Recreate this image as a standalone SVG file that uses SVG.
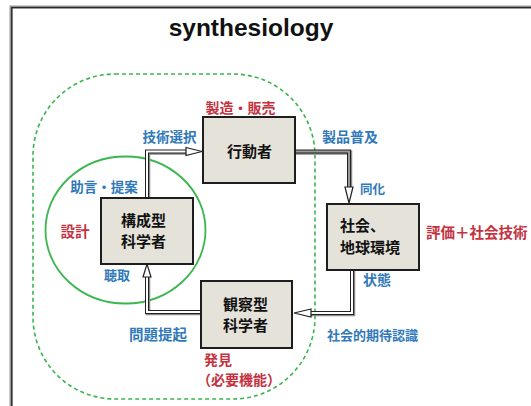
<svg xmlns="http://www.w3.org/2000/svg" width="531" height="406" viewBox="0 0 531 406">
<defs>
<style>
.jp{font-family:"Noto Sans CJK JP","Noto Sans CJK SC",sans-serif;font-weight:bold}
.blue{fill:#2f78b9}
.red{fill:#c4323f}
.box{fill:#e5e3d9;stroke:#1e1e1e;stroke-width:2}
.bt{fill:#111;font-size:15px}
.sh{fill:none;stroke:#8a8a8a;stroke-width:4.5;stroke-linejoin:miter}
.ol{fill:none;stroke:#222;stroke-width:4;stroke-linejoin:miter}
.in{fill:none;stroke:#fff;stroke-width:2;stroke-linejoin:miter}
.ing{fill:none;stroke:#9a9a9a;stroke-width:2;stroke-linejoin:miter}
.head{fill:#fff;stroke:#222;stroke-width:1.2;stroke-linejoin:miter}
</style>
</defs>
<rect width="531" height="406" fill="#fff"/>
<!-- frame -->
<rect x="11" y="7" width="620" height="520" fill="none" stroke="#9a9a9a" stroke-width="3"/>
<rect x="11.8" y="7.6" width="620" height="520" fill="none" stroke="#2a2a2a" stroke-width="1.4"/>
<text x="251" y="36" text-anchor="middle" font-family="'Liberation Sans',Arial,sans-serif" font-weight="bold" font-size="24.5" fill="#111">synthesiology</text>
<!-- grouping shapes -->
<rect x="33" y="74" width="282" height="325" rx="82" ry="82" fill="none" stroke="#3bb54e" stroke-width="1.6" stroke-dasharray="4,3"/>
<ellipse cx="125.5" cy="230" rx="80" ry="73.5" fill="none" stroke="#3bb54e" stroke-width="1.8"/>
<g id="connectors">
<!-- B -> A -->
<polyline class="sh" points="148,198 148,152.5 186,152.5"/>
<polyline class="ol" points="147,198 147,151.5 187,151.5"/>
<polyline class="in" points="147,198 147,151.5 187,151.5"/>
<polygon class="head" points="186,147.5 202,151.5 186,155.5"/>
<!-- A -> C -->
<polyline class="sh" points="295,152.5 350,152.5 350,187"/>
<polyline class="ol" points="295,151.5 349,151.5 349,188"/>
<polyline class="ing" points="295,151.5 349,151.5 349,188"/>
<polygon class="head" points="345,187 349,203 353,187"/>
<!-- C -> D -->
<polyline class="sh" points="353,270 353,314 310,314"/>
<polyline class="ol" points="352,270 352,313 309,313"/>
<polyline class="in" points="352,270 352,313 309,313"/>
<polygon class="head" points="311,309 294,313 311,317"/>
<!-- D -> B -->
<polyline class="sh" points="201,313 148,313 148,277"/>
<polyline class="ol" points="201,312 147,312 147,276"/>
<polyline class="in" points="201,312 147,312 147,276"/>
<polygon class="head" points="143,277 147,264 151,277"/>
</g>
<g id="node-actor">
<rect class="box" x="203" y="117" width="92" height="66"/>
<text class="jp bt" x="249.5" y="157" text-anchor="middle" font-size="16">行動者</text>
</g>
<g id="node-constructive">
<rect class="box" x="101" y="198" width="92" height="66"/>
<text class="jp bt" text-anchor="middle"><tspan x="143.5" y="225.5">構成型</tspan><tspan x="143.5" y="247.3">科学者</tspan></text>
</g>
<g id="node-society">
<rect class="box" x="327" y="204" width="92" height="66"/>
<text class="jp bt"><tspan x="340" y="231.4">社会、</tspan><tspan x="340" y="253.2">地球環境</tspan></text>
</g>
<g id="node-observational">
<rect class="box" x="201" y="281" width="91" height="67"/>
<text class="jp bt" text-anchor="middle"><tspan x="245.5" y="309.5">観察型</tspan><tspan x="245.5" y="331.3">科学者</tspan></text>
</g>
<g id="labels">
<text class="jp red" x="240.5" y="113" font-size="14" text-anchor="middle">製造・販売</text>
<text class="jp blue" x="169.5" y="142" font-size="13.5" text-anchor="middle">技術選択</text>
<text class="jp blue" x="350" y="142" font-size="14" text-anchor="middle">製品普及</text>
<text class="jp blue" x="372.5" y="194" font-size="12.5" text-anchor="middle">同化</text>
<text class="jp red" x="426" y="238" font-size="14.5">評価＋社会技術</text>
<text class="jp blue" x="377" y="284.5" font-size="14" text-anchor="middle">状態</text>
<text class="jp blue" x="372.5" y="340" font-size="13" text-anchor="middle">社会的期待認識</text>
<text class="jp blue" x="158" y="339.5" font-size="14.5" text-anchor="middle">問題提起</text>
<text class="jp red" font-size="14"><tspan x="204" y="364.9">発見</tspan><tspan x="197" y="385.3">（必要機能）</tspan></text>
<text class="jp blue" x="104" y="192" font-size="13.5" text-anchor="middle">助言・提案</text>
<text class="jp red" x="75" y="237" font-size="14.5" text-anchor="middle">設計</text>
<text class="jp blue" x="117" y="280" font-size="13" text-anchor="middle">聴取</text>
</g>
</svg>
